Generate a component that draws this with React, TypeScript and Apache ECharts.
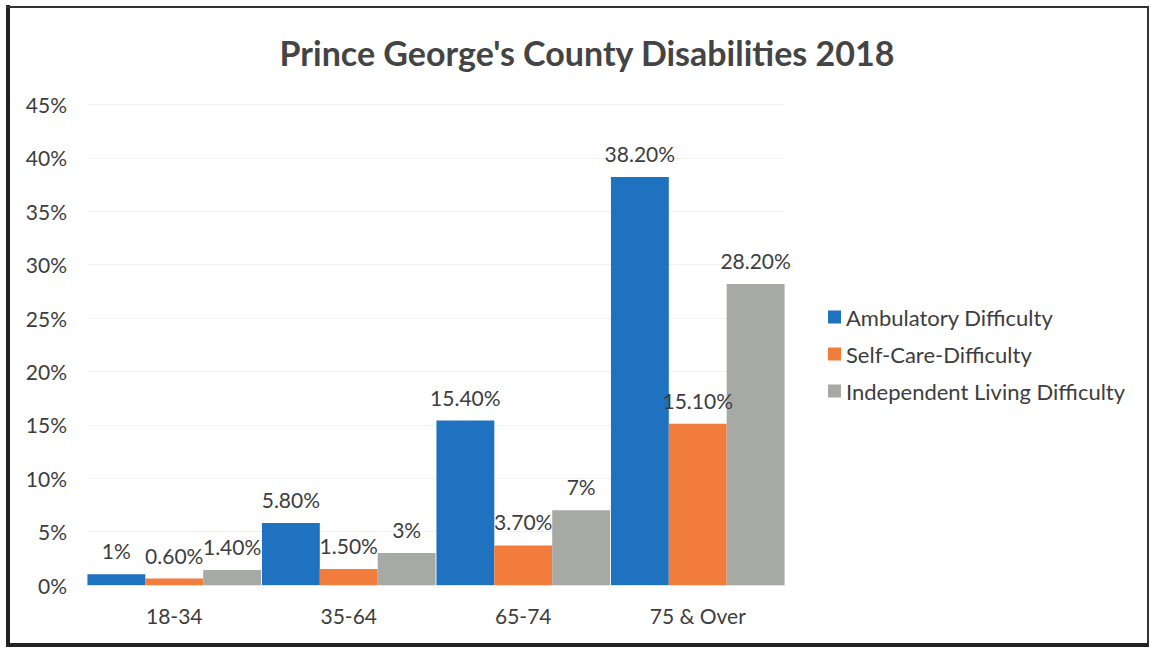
import React, { useEffect, useRef } from "react";
import * as echarts from "echarts";

const categories = ["18-34", "35-64", "65-74", "75 & Over"];
const seriesNames = ["Ambulatory Difficulty", "Self-Care-Difficulty", "Independent Living Difficulty"];
const ambulatory = [1, 5.8, 15.4, 38.2];
const selfCare = [0.6, 1.5, 3.7, 15.1];
const independent = [1.4, 3, 7, 28.2];
const ambulatoryLabels = ["1%", "5.80%", "15.40%", "38.20%"];
const selfCareLabels = ["0.60%", "1.50%", "3.70%", "15.10%"];
const independentLabels = ["1.40%", "3%", "7%", "28.20%"];
const colors = ["#1f72c0", "#f27c3b", "#a7a9a4"];

const FONT = "Lato, 'Open Sans', sans-serif";
const TEXT = "#3d3d3d";

export default function App() {
  const ref = useRef<HTMLDivElement>(null);
  useEffect(() => {
    if (!ref.current) return;
    const chart = echarts.init(ref.current, null, { renderer: "svg" });
    const values = [ambulatory, selfCare, independent];
    const labels = [ambulatoryLabels, selfCareLabels, independentLabels];
    chart.setOption({
      animation: false,
      backgroundColor: "#ffffff",
      textStyle: { fontFamily: FONT },
      title: {
        text: "Prince George's County Disabilities 2018",
        left: 582,
        textAlign: "center",
        top: 30,
        textStyle: { fontFamily: FONT, fontSize: 34, fontWeight: "bold", color: "#444444" },
      },
      legend: {
        orient: "vertical",
        left: 823,
        top: 301,
        itemWidth: 13,
        itemHeight: 13,
        itemGap: 15,
        icon: "rect",
        data: seriesNames,
        textStyle: { fontFamily: FONT, fontSize: 22, color: TEXT },
      },
      grid: { left: 87, right: 365, top: 104.5, bottom: 63, containLabel: false },
      xAxis: {
        type: "category",
        data: categories,
        axisLine: { show: true, lineStyle: { color: "#e4e4e4" } },
        axisTick: { show: false },
        axisLabel: { fontFamily: FONT, fontSize: 21, color: TEXT, margin: 20 },
      },
      yAxis: {
        type: "value",
        min: 0,
        max: 45,
        interval: 5,
        axisLine: { show: false },
        axisTick: { show: false },
        splitLine: { lineStyle: { color: "#f1f1f1", width: 1 } },
        axisLabel: { fontFamily: FONT, fontSize: 21, color: TEXT, margin: 20, formatter: "{value}%" },
      },
      series: seriesNames.map((name, i) => ({
        name,
        type: "bar",
        data: values[i],
        barGap: "0%",
        barCategoryGap: "0.5%",
        itemStyle: { color: colors[i] },
        label: {
          show: true,
          position: "top",
          distance: 13,
          fontFamily: FONT,
          fontSize: 21,
          color: TEXT,
          formatter: (p: any) => labels[i][p.dataIndex],
        },
      })),
      graphic: [
        { type: "line", shape: { x1: 8, y1: 5, x2: 8, y2: 646 }, style: { stroke: "#222", lineWidth: 4 } },
        { type: "line", shape: { x1: 6, y1: 7, x2: 1149, y2: 7 }, style: { stroke: "#333", lineWidth: 2 } },
        { type: "line", shape: { x1: 1148, y1: 6, x2: 1148, y2: 646 }, style: { stroke: "#333", lineWidth: 2 } },
        { type: "line", shape: { x1: 6, y1: 645, x2: 1149, y2: 645 }, style: { stroke: "#222", lineWidth: 4 } },
      ],
    });
    return () => chart.dispose();
  }, []);
  return <div ref={ref} style={{ position: "fixed", left: 0, top: 0, width: 1150, height: 648 }} />;
}
